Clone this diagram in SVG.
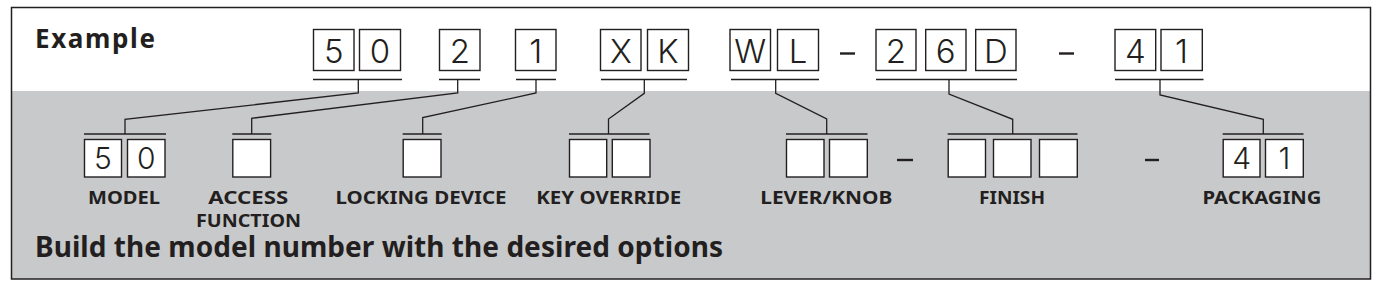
<svg xmlns="http://www.w3.org/2000/svg" width="1378" height="286" viewBox="0 0 1378 286">
<style>
.box{fill:#fff;stroke:#231f20;stroke-width:1.4}
.ul{stroke:#231f20;stroke-width:1.6;fill:none}
.con{stroke:#231f20;stroke-width:1.3;fill:none}
.dig{font-family:Inter,"Liberation Sans",sans-serif;font-weight:300;fill:#231f20;text-anchor:middle}
.big{font-size:33px}
.small{font-size:30px}
.lbl{font-family:"Noto Sans","Liberation Sans",sans-serif;font-weight:700;font-size:17.5px;fill:#231f20;text-anchor:middle}
.title{font-family:"Noto Sans","Liberation Sans",sans-serif;font-weight:700;fill:#231f20}
.dash{stroke:#231f20;stroke-width:2.4}
</style>
<rect x="0" y="0" width="1378" height="286" fill="#fff"/>
<rect x="11.5" y="91" width="1359" height="188" fill="#c8c9cb"/>
<rect x="11.5" y="7.5" width="1359" height="271.5" fill="none" stroke="#231f20" stroke-width="1.5"/>
<text class="title" x="35" y="48" font-size="26" textLength="120" lengthAdjust="spacing">Example</text>
<text class="title" x="35" y="257" font-size="28" textLength="688" lengthAdjust="spacing">Build the model number with the desired options</text>

<g id="top-code">
<rect class="box" x="313.5" y="29.5" width="40.5" height="41"/><text class="dig big" x="333.8" y="63">5</text>
<rect class="box" x="359.5" y="29.5" width="41" height="41"/><text class="dig big" x="380" y="63">0</text>
<line class="ul" x1="313" y1="79.5" x2="402" y2="79.5"/>
<rect class="box" x="439.5" y="29.5" width="40.5" height="41"/><text class="dig big" x="459.8" y="63">2</text>
<line class="ul" x1="439" y1="79.5" x2="480" y2="79.5"/>
<rect class="box" x="515.5" y="29.5" width="40.5" height="41"/><text class="dig big" x="535.8" y="63">1</text>
<line class="ul" x1="516" y1="79.5" x2="556" y2="79.5"/>
<rect class="box" x="600.5" y="29.5" width="40.5" height="41"/><text class="dig big" x="620.8" y="63">X</text>
<rect class="box" x="647.5" y="29.5" width="41" height="41"/><text class="dig big" x="668" y="63">K</text>
<line class="ul" x1="601" y1="79.5" x2="687" y2="79.5"/>
<rect class="box" x="730" y="29.5" width="40.5" height="41"/><text class="dig big" x="750.3" y="63">W</text>
<rect class="box" x="777.5" y="29.5" width="41" height="41"/><text class="dig big" x="798" y="63">L</text>
<line class="ul" x1="731" y1="79.5" x2="819" y2="79.5"/>
<line class="dash" x1="840" y1="53.5" x2="855" y2="53.5"/>
<rect class="box" x="876" y="29.5" width="40" height="41"/><text class="dig big" x="896" y="63">2</text>
<rect class="box" x="925.7" y="29.5" width="40.3" height="41"/><text class="dig big" x="945.8" y="63">6</text>
<rect class="box" x="975.7" y="29.5" width="40.3" height="41"/><text class="dig big" x="995.8" y="63">D</text>
<line class="ul" x1="876" y1="79.5" x2="1017" y2="79.5"/>
<line class="dash" x1="1059" y1="53.5" x2="1074" y2="53.5"/>
<rect class="box" x="1115" y="29.5" width="40.7" height="41"/><text class="dig big" x="1135.3" y="63">4</text>
<rect class="box" x="1161" y="29.5" width="41.3" height="41"/><text class="dig big" x="1181.6" y="63">1</text>
<line class="ul" x1="1115" y1="79.5" x2="1203.5" y2="79.5"/>
</g>

<g id="connectors">
<polyline class="con" points="358.3,79.5 358.3,93 125,119.3 125,134"/>
<polyline class="con" points="457.7,79.5 457.7,93 251.7,118.3 251.7,134"/>
<polyline class="con" points="536,79.5 536,93 422.7,117.5 422.7,134"/>
<polyline class="con" points="644.3,79.5 644.3,93.3 608.5,119 608.5,134"/>
<polyline class="con" points="775.7,79.5 775.7,93.3 826.7,119 826.7,134"/>
<polyline class="con" points="949,79.5 949,94 1012.7,119.3 1012.7,134"/>
<polyline class="con" points="1160,79.5 1160,95 1263.3,119.3 1263.3,134"/>
</g>

<g id="model">
<line class="ul" x1="84" y1="134" x2="166" y2="134"/>
<rect class="box" x="84.5" y="139.5" width="37" height="37.5"/><text class="dig small" x="103" y="168.5">5</text>
<rect class="box" x="127.5" y="139.5" width="37.5" height="37.5"/><text class="dig small" x="146.2" y="168.5">0</text>
<text class="lbl" x="124" y="204" textLength="72" lengthAdjust="spacingAndGlyphs">MODEL</text>
</g>
<g id="access">
<line class="ul" x1="232.3" y1="134" x2="271.3" y2="134"/>
<rect class="box" x="232.8" y="139.5" width="37.8" height="37.5"/>
<text class="lbl" x="248.3" y="204" textLength="80" lengthAdjust="spacingAndGlyphs">ACCESS</text>
<text class="lbl" x="248.5" y="227.3" textLength="105" lengthAdjust="spacingAndGlyphs">FUNCTION</text>
</g>
<g id="locking">
<line class="ul" x1="402.7" y1="134" x2="441.7" y2="134"/>
<rect class="box" x="403.2" y="139.5" width="37.8" height="37.5"/>
<text class="lbl" x="421" y="204" textLength="171" lengthAdjust="spacingAndGlyphs">LOCKING DEVICE</text>
</g>
<g id="key">
<line class="ul" x1="569" y1="134" x2="649.5" y2="134"/>
<rect class="box" x="569.5" y="139.5" width="37.2" height="37.5"/>
<rect class="box" x="612.3" y="139.5" width="37.7" height="37.5"/>
<text class="lbl" x="608.8" y="204" textLength="145" lengthAdjust="spacingAndGlyphs">KEY OVERRIDE</text>
</g>
<g id="lever">
<line class="ul" x1="786" y1="134" x2="867.5" y2="134"/>
<rect class="box" x="786.5" y="139.5" width="37.5" height="37.5"/>
<rect class="box" x="829.5" y="139.5" width="37.8" height="37.5"/>
<text class="lbl" x="826.3" y="204" textLength="132" lengthAdjust="spacingAndGlyphs">LEVER/KNOB</text>
</g>
<line class="dash" x1="897" y1="160" x2="913" y2="160"/>
<g id="finish">
<line class="ul" x1="947.7" y1="134" x2="1077.5" y2="134"/>
<rect class="box" x="948.2" y="139.5" width="37.3" height="37.5"/>
<rect class="box" x="993.5" y="139.5" width="37.5" height="37.5"/>
<rect class="box" x="1039.5" y="139.5" width="37.8" height="37.5"/>
<text class="lbl" x="1012" y="204" textLength="66" lengthAdjust="spacingAndGlyphs">FINISH</text>
</g>
<line class="dash" x1="1145" y1="160" x2="1159" y2="160"/>
<g id="packaging">
<line class="ul" x1="1222.7" y1="134" x2="1303.5" y2="134"/>
<rect class="box" x="1223.2" y="139.5" width="36.8" height="37.5"/><text class="dig small" x="1241.6" y="168.5">4</text>
<rect class="box" x="1265.5" y="139.5" width="37.8" height="37.5"/><text class="dig small" x="1284.4" y="168.5">1</text>
<text class="lbl" x="1262" y="204" textLength="119" lengthAdjust="spacingAndGlyphs">PACKAGING</text>
</g>
</svg>
